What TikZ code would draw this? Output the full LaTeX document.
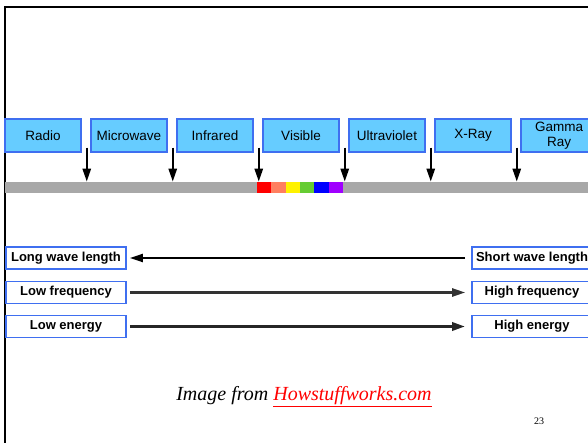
\documentclass[tikz,border=0pt]{standalone}
\usepackage{fontspec}
\setmainfont{Liberation Serif}
\setsansfont{Liberation Sans}
\usetikzlibrary{arrows.meta}
\definecolor{bandfill}{HTML}{66CCFF}
\definecolor{bandedge}{HTML}{3F6FF0}
\definecolor{bargray}{HTML}{A8A8A8}
\definecolor{salmon}{HTML}{FF7F60}
\definecolor{leaf}{HTML}{66CC33}
\definecolor{violet}{HTML}{A000FF}

\begin{document}
\begin{tikzpicture}[x=1pt,y=-1pt,
  band/.style={draw=bandedge,fill=bandfill,line width=1.5pt,minimum width=76pt,
    minimum height=33pt,inner sep=0pt,align=center,
    font=\sffamily\fontsize{13.5}{14.5}\selectfont},
  prop/.style={draw=bandedge,fill=white,line width=1.6pt,minimum width=120pt,
    minimum height=22pt,inner sep=0pt,font=\sffamily\bfseries\fontsize{13}{13}\selectfont},
  down/.style={line width=2.5pt,-{Triangle[length=13pt,width=8pt]}},
  across/.style={-{Triangle[length=13pt,width=8pt]}}
]
   \useasboundingbox (0,0) rectangle (588,443);
   \clip (0,0) rectangle (588,443);

   % frame of the slide
   \draw[line width=2.5pt] (588,7) -| (5,443);

   % the spectrum bar
   \fill[bargray] (5,182) rectangle (588,193);
   \foreach \col [count=\k from 0] in {red,salmon,yellow,leaf,blue,violet}
     \fill[\col] ({257+14.33*\k},182) rectangle ({257+14.33*(\k+1)},193);

   % bands, with their markers on the bar
   \foreach \lab [count=\i from 0] in {Radio,Microwave,Infrared,Visible,Ultraviolet,X-Ray,{Gamma\\Ray}}
     \node[band] (band\i) at ({43+86*\i},135.5) {\lab};
   \foreach \i in {0,...,5} {
     \coordinate (top\i) at ([xshift=5pt,yshift=5pt]band\i.south east);
     \coordinate (bot\i) at ([xshift=5pt,yshift=-29pt]band\i.south east);
     \draw[down] (top\i) -- (bot\i);
   }

   % properties
   \node[prop] (longwl) at (66,258) {Long wave length};
   \node[prop] (lowfreq) at (66,292.5) {Low frequency};
   \node[prop] (lowen) at (66,326.5) {Low energy};
   \node[prop] (shortwl) at (532,258) {Short wave length};
   \node[prop] (highfreq) at (532,292.5) {High frequency};
   \node[prop] (highen) at (532,326.5) {High energy};

   \draw[across,line width=1.8pt,shorten <=6pt,shorten >=3pt] (shortwl) -- (longwl);
   \draw[across,line width=2.3pt,black!80,shorten <=3pt,shorten >=6pt] (lowfreq) -- (highfreq);
   \draw[across,line width=3pt,black!85,shorten <=3pt,shorten >=6pt] (lowen) -- (highen);

   \node (credit) at (304,397) {\fontsize{20}{22}\selectfont\itshape Image from
     \textcolor{red}{\underline{Howstuffworks.com}}};
   \node (pagenum) at (539,421) {\fontsize{10}{12}\selectfont 23};
\end{tikzpicture}
\end{document}
